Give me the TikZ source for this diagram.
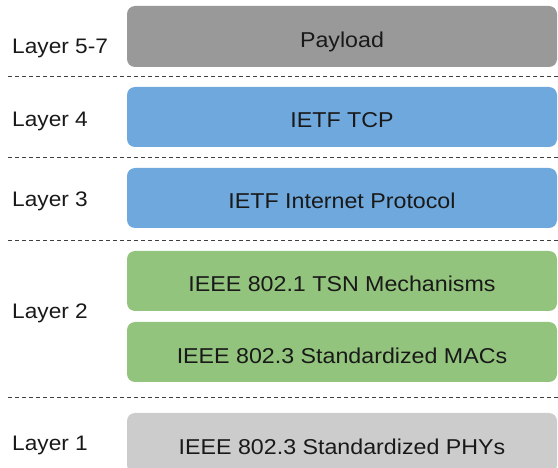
\documentclass[tikz,border=0pt]{standalone}
\usepackage{fontspec}
\setmainfont{Liberation Sans}[FakeStretch=1.08]
\definecolor{payloadgray}{HTML}{999999}
\definecolor{ietfblue}{HTML}{6FA8DC}
\definecolor{ieeegreen}{HTML}{93C47D}
\definecolor{phygray}{HTML}{CCCCCC}
\begin{document}
\begin{tikzpicture}[x=1pt,y=-1pt,
  layerbox/.style={rounded corners=8pt,minimum width=430pt,minimum height=60pt,
    inner sep=0pt,text height=22pt,text depth=0pt,
    font=\fontsize{21.5}{26}\selectfont,text=black!90},
  layerlabel/.style={anchor=base west,inner sep=0pt,font=\fontsize{21}{26}\selectfont,text=black!90},
  separator/.style={dash pattern=on 4pt off 3pt,line width=0.9pt,color=black!75}]
\useasboundingbox (0,0) rectangle (558,468);

% layer separators
\foreach \y in {76.5,157,240,397.5}
	\draw [separator] (8,\y) -- (558,\y);

% protocol boxes
\node[layerbox,fill=payloadgray,minimum height=61pt] (payload) at (342,36.5) {Payload};
\node[layerbox,fill=ietfblue] (tcp) at (342,117) {IETF TCP};
\node[layerbox,fill=ietfblue] (ip) at (342,198) {IETF Internet Protocol};
\node[layerbox,fill=ieeegreen] (tsn) at (342,281) {IEEE 802.1 TSN Mechanisms};
\node[layerbox,fill=ieeegreen] (mac) at (342,352) {IEEE 802.3 Standardized MACs};
\node[layerbox,fill=phygray] (phy) at (342,443) {IEEE 802.3 Standardized PHYs};

% layer names
\node[layerlabel] (l57) at (12,54) {Layer 5-7};
\node[layerlabel] (l4) at (12,126.5) {Layer 4};
\node[layerlabel] (l3) at (12,206.5) {Layer 3};
\node[layerlabel] (l2) at (12,319) {Layer 2};
\node[layerlabel] (l1) at (12,450) {Layer 1};

\end{tikzpicture}
\end{document}
